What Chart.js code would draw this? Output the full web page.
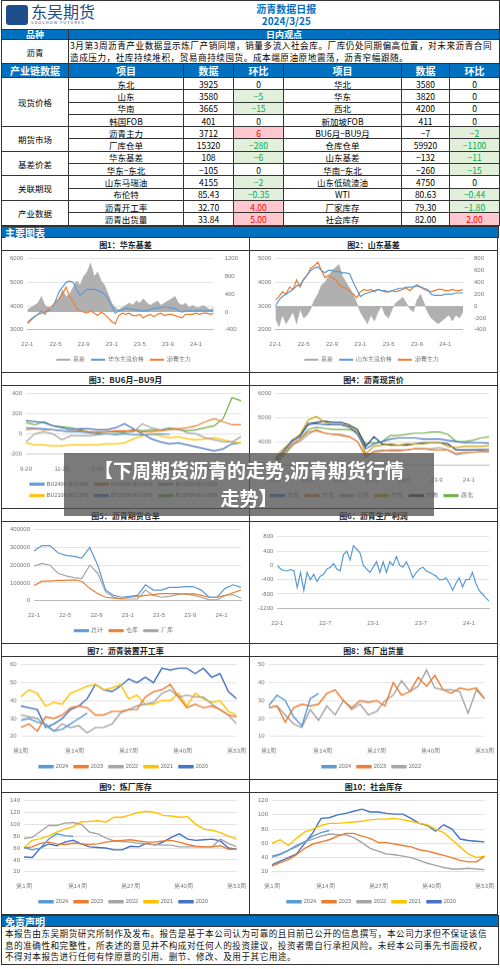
<!DOCTYPE html>
<html><head><meta charset="utf-8">
<script src="https://cdn.jsdelivr.net/npm/chart.js@4"></script>
<style>
*{box-sizing:border-box;margin:0;padding:0}
body{width:500px;height:969px;background:#fff;font-family:"Noto Sans CJK SC",sans-serif;position:relative;overflow:hidden}
table{border-collapse:collapse;width:498px;margin-left:1px;table-layout:fixed}
td{border:1px solid #333;font-size:8.5px;text-align:center;padding:0;line-height:10px;height:12.3px;white-space:nowrap;overflow:hidden}
.hd td{background:#0070c0;color:#fff;font-weight:bold;font-size:10px;height:14px}
.g{background:#e2efda;color:#00b050}.r{background:#ffc7ce;color:#f00}
.bar{background:#0070c0;color:#fff;font-weight:bold;font-size:10px;height:12px;line-height:11px;padding-left:3px;margin:0 1px;border:1px solid #333}
.grid{display:grid;grid-template-columns:248px 248px;margin-left:1px;border-left:1px solid #333}
.cell{height:135.5px;border-right:1px solid #333;border-bottom:1px solid #333}
.ct{height:13px;font-size:8px;text-align:center;line-height:13px;border-bottom:1px solid #333;font-weight:bold;color:#222}
.cv{height:121.5px;position:relative}
#ov{position:absolute;left:64px;top:453px;width:370px;height:63px;background:rgba(85,85,85,0.78);color:#fff;font-weight:bold;font-size:19px;text-align:center;line-height:28px;padding-top:3px}
</style></head><body>
<table>
<col style="width:67px"><col style="width:115px"><col style="width:50px"><col style="width:50px"><col style="width:118px"><col style="width:48px"><col style="width:50px">
<tr><td colspan="2" style="height:29px;border-right:none;text-align:left;padding-left:4px"><span style="display:inline-block;width:22px;height:20px;background:#1f4e8c;border-radius:3px;vertical-align:middle"></span><span style="display:inline-block;vertical-align:middle;margin-left:3px;color:#1f4e8c;line-height:12px"><b style="font-size:16px;font-weight:normal">东吴期货</b><br><span style="font-size:4px;letter-spacing:1px;line-height:5px;display:block">SOOCHOW FUTURES</span></span></td>
<td colspan="5" style="height:29px;border-left:none;color:#0070c0;font-weight:bold;font-size:10px;line-height:12px;padding-right:110px">沥青数据日报<br>2024/3/25</td></tr>
<tr class="hd"><td style="height:10px;font-size:9px;line-height:9px">品种</td><td colspan="6" style="height:10px;font-size:9px;line-height:9px">日内观点</td></tr>
<tr><td style="height:24px">沥青</td><td colspan="6" style="height:24px;text-align:left;white-space:normal;line-height:11.5px;padding-left:1px;font-size:8.6px;letter-spacing:0.55px">3月第3周沥青产业数据显示炼厂产销同增，销量多流入社会库。厂库仍处同期偏高位置，对未来沥青合同造成压力，社库持续堆积，贸易商持续囤货。成本端原油原地震荡，沥青窄幅跟随。</td></tr>
<tr class="hd"><td>产业链数据</td><td>项目</td><td>数据</td><td>环比</td><td>项目</td><td>数据</td><td>环比</td></tr>
<tr><td rowspan="4">现货价格</td><td>东北</td><td>3925</td><td>0</td><td>华北</td><td>3580</td><td>0</td></tr>
<tr><td>山东</td><td>3580</td><td class="g">−5</td><td>华东</td><td>3820</td><td>0</td></tr>
<tr><td>华南</td><td>3665</td><td class="g">−15</td><td>西北</td><td>4200</td><td>0</td></tr>
<tr><td>韩国FOB</td><td>401</td><td>0</td><td>新加坡FOB</td><td>411</td><td>0</td></tr>
<tr><td rowspan="2">期货市场</td><td>沥青主力</td><td>3712</td><td class="r">6</td><td>BU6月−BU9月</td><td>−7</td><td class="g">−2</td></tr>
<tr><td>厂库仓单</td><td>15320</td><td class="g">−280</td><td>仓库仓单</td><td>59920</td><td class="g">−1100</td></tr>
<tr><td rowspan="2">基差价差</td><td>华东基差</td><td>108</td><td class="g">−6</td><td>山东基差</td><td>−132</td><td class="g">−11</td></tr>
<tr><td>华东−东北</td><td>−105</td><td>0</td><td>华南−东北</td><td>−260</td><td class="g">−15</td></tr>
<tr><td rowspan="2">关联期现</td><td>山东马瑞油</td><td>4155</td><td class="g">−2</td><td>山东低硫渣油</td><td>4750</td><td>0</td></tr>
<tr><td>布伦特</td><td>85.43</td><td class="g">−0.35</td><td>WTI</td><td>80.63</td><td class="g">−0.44</td></tr>
<tr><td rowspan="2">产业数据</td><td>沥青开工率</td><td>32.70</td><td class="r">4.00</td><td>厂家库存</td><td>79.30</td><td class="g">−1.80</td></tr>
<tr><td>沥青出货量</td><td>33.84</td><td class="r">5.00</td><td>社会库存</td><td>82.00</td><td class="r">2.00</td></tr>
</table>
<div class="bar">主要图表</div>
<div class="grid" id="grid"></div>
<div class="bar" style="margin-top:0">免责声明</div>
<div style="margin:0 1px;border:1px solid #333;border-top:none;font-size:8.6px;line-height:11.5px;padding:1px 3px;height:38px;color:#111;letter-spacing:0.5px">本报告由东吴期货研究所制作及发布。报告是基于本公司认为可靠的且目前已公开的信息撰写，本公司力求但不保证该信息的准确性和完整性，所表述的意见并不构成对任何人的投资建议，投资者需自行承担风险。未经本公司事先书面授权，不得对本报告进行任何有悖原意的引用、删节、修改、及用于其它用途。</div>
<div id="ov">【下周期货沥青的走势,沥青期货行情<br>走势】</div>
<script>
// ---- data ----
const monthTicks1=["22-1","22-5","22-9","23-1","23-5","23-9","24-1"];
const monthTicks6=["22-1","22-7","23-1","23-7","24-1"];
const fig1Basis=[50,100,150,200,350,150,100,50,200,300,500,350,400,550,700,600,800,900,1100,800,900,700,600,400,200,100,50,100,150,200,150,250,200,300,200,150,200,250,150,200,250,300,350,200,150,200,100,150,100,100,150,100,50,100];
const fig1Price=[3300,3450,3550,3650,3700,3750,3800,3900,4200,4600,4800,5000,5050,5000,4700,4450,4600,4700,4700,4700,4650,4600,4500,4300,4000,3700,3800,3850,3900,3880,3850,3850,3800,3800,3800,3850,3900,3900,3950,3950,3950,3900,3900,3800,3750,3800,3800,3800,3800,3800,3800,3800,3800,3800];
const fig1Main=[3250,3400,3550,3650,3800,3650,3900,4000,4150,4300,4500,4800,4400,4200,3900,3800,3750,3700,3800,3700,3600,3750,3650,3500,3350,3250,3600,3700,3650,3700,3600,3600,3650,3500,3600,3650,3550,3650,3700,3600,3650,3650,3600,3550,3500,3650,3650,3650,3700,3650,3700,3700,3650,3700];
const fig2Basis=[-200,-350,-150,-300,-200,-100,-300,-50,-200,-150,-50,100,200,350,400,500,600,650,700,500,400,300,200,50,-100,-200,-300,-150,-250,-100,0,-150,-200,-50,50,100,150,50,-50,-100,100,200,50,-100,-200,-250,-300,-250,-200,-150,-250,-150,-200,-100];
const fig2Price=[3000,3250,3400,3500,3600,3700,3850,3900,4100,4300,4500,4600,4650,4500,4400,4500,4500,4450,4450,4400,4400,4350,4000,3700,3400,3500,3550,3600,3650,3700,3650,3650,3600,3650,3700,3750,3750,3800,3800,3800,3850,3800,3750,3700,3500,3450,3450,3450,3500,3500,3500,3550,3550,3550];
const fig2Main=[3250,3400,3600,3500,3800,3700,4100,3800,4150,4300,4600,4700,4850,4500,4200,4300,4200,4100,3900,3800,3750,3650,3500,3350,3600,3700,3650,3700,3600,3700,3650,3600,3600,3650,3600,3650,3700,3750,3650,3800,3900,3800,3700,3650,3600,3650,3700,3700,3650,3650,3700,3650,3650,3700];
const fig3Labels=["9-20","","","","11-20","","","","1-20","","","","3-20","","","","5-20","","","","7-20","","","",""];
const fig3Names=["BU2406-BU2409","BU2306-BU2309","BU2206-BU2209","BU2106-BU2109","BU2006-BU2009","BU1906-BU1909"];
const fig3S1=[60,55,50,40,30,20,20,10,0,0,-10,0,-10,-10,-5,0,-5];
const fig3S2=[40,50,40,40,30,20,30,20,20,20,30,30,30,20,20,30,40,50,60,80,120,150,120,90,90];
const fig3S3=[-80,0,20,0,-60,-20,-20,-20,-10,0,0,10,20,100,60,40,60,50,10,0,-40,-60,-80,-80,-30];
const fig3S4=[-90,-110,-110,-120,-120,-110,-110,-110,-110,-100,-100,-90,-50,-20,0,-20,-40,-30,-50,-60,-50,-40,-60,-80,-90];
const fig3S5=[130,120,110,80,60,40,50,50,40,40,60,100,50,0,-50,-80,-100,-90,-110,-130,-150,-170,-150,-100,-90];
const fig3S6=[110,90,120,80,70,60,40,20,10,20,20,20,40,30,40,30,50,40,30,40,60,80,150,360,330];
const fig4Names=["东北","华北","山东","华东","华南","西北"];
const fig4DB=[3200,3600,4000,4200,4700,4750,4700,4700,4700,4600,4300,3700,3900,4000,4100,4150,4150,4150,4100,4100,4100,4050,4000,3950,3950,3950,3925];
const fig4HB=[3100,3500,3900,4100,4400,4450,4350,4300,4250,4200,4000,3400,3550,3600,3650,3650,3650,3700,3700,3650,3650,3650,3500,3550,3550,3580,3580];
const fig4SD=[3050,3450,3850,4000,4300,4500,4350,4300,4300,4200,4000,3350,3600,3650,3600,3600,3650,3700,3700,3700,3750,3650,3450,3500,3550,3580,3580];
const fig4HD=[3350,3700,4000,4300,4900,5050,4800,4700,4700,4650,4400,3500,3800,3850,3900,3850,3900,3900,3900,3950,3950,3800,3750,3800,3800,3800,3820];
const fig4HN=[3250,3600,4050,4250,4750,4800,4850,4800,4800,4700,4500,3800,4200,3900,3850,3850,3850,3900,3950,3950,3950,3900,3650,3650,3650,3660,3665];
const fig4XB=[3000,3400,3800,4100,4500,4600,4550,4500,4500,4500,4400,3900,3950,4000,4250,4250,4300,4350,4350,4400,4400,4300,4000,4000,4050,4150,4200];
const fig5Total=[280000,310000,310000,270000,255000,250000,240000,300000,200000,60000,30000,20000,25000,30000,90000,60000,60000,75000,75000,80000,80000,60000,20000,20000,70000,90000,75000];
const fig5Ware=[85000,110000,110000,115000,115000,118000,110000,70000,40000,20000,15000,12000,20000,25000,30000,35000,40000,40000,40000,38000,40000,30000,20000,20000,30000,45000,60000];
const fig5Fact=[195000,210000,200000,155000,140000,130000,125000,200000,155000,50000,20000,10000,10000,10000,60000,30000,20000,25000,35000,40000,30000,20000,5000,5000,30000,35000,15000];
const fig6Profit=[0,-100,-150,-150,-120,-150,-620,-200,-700,-200,-400,-250,-450,-300,-250,-100,-50,50,-100,-150,300,400,150,550,450,350,0,-100,-200,-50,100,-200,100,-200,100,0,250,0,-50,100,-100,-350,-200,-100,-50,-150,-200,-250,-300,-400,-400,-350,-500,-700,-500,-350,-600,-400,-400,-200,-500,-700,-800,-900,-1000];
const weeks=[1,3,5,7,9,11,13,15,17,19,21,23,25,27,29,31,33,35,37,39,41,43,45,47,49,51,53];
const yearNames=["2024","2023","2022","2021","2020"];
const f7=[[29,30,28,27,23,24,27,30,33],[25,27,23,31,30,32,36,37,36,32,32,34,34,35,35,42,45,46,49,42,36,38,36,37,35,32,31],[32,31,30,26,23,27,25,26,22,25,25,27,33,35,37,38,39,44,46,42,43,42,42,38,35,32,27],[42,46,44,37,39,38,44,46,48,49,46,47,49,41,43,38,38,40,40,44,37,44,41,39,40,34,32],[37,36,35,25,27,30,35,37,41,49,46,45,48,52,50,53,50,58,57,58,58,55,58,53,55,45,41]];
const f8=[[27,33,30,21,16,31,34],[26,27,18,26,28,27,28,34,36,30,26,30,29,30,27,40,33,35,43,38,44,36,34,37,36,37,31],[26,27,22,17,15,25,19,27,22,30,25,28,22,24,30,33,41,35,38,47,37,36,36,35,23,36,31]];
const f9=[[61,57,60,75,84,81,80],[60,62,68,70,67,66,68,67,66,67,70,72,73,74,72,70,70,72,73,70,66,63,62,62,64,58,58],[76,78,88,98,98,102,103,100,87,84,77,72,71,70,68,67,66,65,65,62,62,62,62,62,75,68,62],[60,73,76,80,87,92,96,104,105,106,104,112,112,116,120,122,120,115,114,112,113,100,92,90,86,80,75],[45,44,60,67,64,70,73,67,62,61,60,57,57,63,62,68,65,70,78,84,75,73,74,75,72,60,58]];
const f10=[[42,45,50,57,62,70,75,78],[28,33,37,44,53,59,62,65,70,74,74,70,67,61,61,59,57,55,51,49,46,43,40,36,34,34,42],[40,44,50,55,62,66,70,73,72,72,68,61,53,49,45,44,42,40,36,32,29,26,24,24,25,24,23],[60,65,57,67,76,80,85,88,88,89,90,91,93,94,94,95,93,91,88,86,80,75,65,55,45,40,42],[30,35,40,45,60,75,95,96,100,102,105,108,104,104,102,101,101,95,88,85,77,86,80,66,64,63,62]];
const titles=["图1：华东基差","图2：山东基差","图3：BU6月−BU9月","图4：沥青现货价","图5：沥青期货仓单","图6：沥青生产利润","图7：沥青装置开工率","图8：炼厂出货量","图9：炼厂库存","图10：社会库存"];
// ---- build ----
const C={blue:"#5b9bd5",orange:"#ed7d31",gray:"#a5a5a5",yellow:"#ffc000",dblue:"#4472c4",green:"#70ad47",navy:"#264478"};
Chart.defaults.font.size=6;Chart.defaults.color="#777";Chart.defaults.font.family="Liberation Sans";
const grid=document.getElementById("grid");const canv=[];
titles.forEach(t=>{const c=document.createElement("div");c.className="cell";c.innerHTML='<div class="ct">'+t+'</div><div class="cv"><canvas></canvas></div>';grid.appendChild(c);canv.push(c.querySelector("canvas"));});
const span=26.5;
const ts=(v)=>v.map((y,i)=>({x:i*span/(v.length-1),y}));
const ln=(label,data,color,extra)=>Object.assign({label,data,borderColor:color,backgroundColor:color,borderWidth:1.2,pointRadius:0,tension:0},extra||{});
const legend={position:"bottom",labels:{boxWidth:14,boxHeight:2,padding:6,font:{size:5.5},color:"#666"}};
const gridC={color:"#e3e3e3",drawTicks:false};
const plain=v=>String(v);
const yAx=(mn,mx,st,extra)=>Object.assign({min:mn,max:mx,ticks:{stepSize:st,callback:plain,padding:4},grid:gridC,border:{display:false}},extra||{});
function xMonth(ticks,step){return{type:"linear",min:0,max:span,grid:{display:false},border:{color:"#bbb"},ticks:{stepSize:step,autoSkip:false,includeBounds:false,maxRotation:0,callback:(v)=>ticks[Math.round(v/step)]||""}};}
function mk(i,cfg){cfg.options=Object.assign({responsive:true,maintainAspectRatio:false,animation:false,layout:{padding:{left:4,right:8,top:6}},plugins:{legend}},cfg.options);new Chart(canv[i],cfg);}
function basisChart(i,basis,price,main,pname,yl,yr){
 mk(i,{type:"line",data:{datasets:[ln("基差",ts(basis),"#aaa",{yAxisID:"y1",fill:{value:0},backgroundColor:"#b0b0b0",borderWidth:0.5,order:3}),ln(pname,ts(price),C.blue,{order:1}),ln("沥青主力",ts(main),C.orange,{order:2})]},
 options:{scales:{x:xMonth(monthTicks1,4),y:yAx(yl[0],yl[1],1000),y1:{position:"right",min:yr[0],max:yr[1],ticks:{stepSize:yr[2],callback:plain},grid:{display:false},border:{display:false}}},plugins:{legend:Object.assign({},legend,{labels:Object.assign({},legend.labels,{generateLabels:(ch)=>ch.data.datasets.map((d,k)=>({text:d.label,fillStyle:k==0?"#aaa":d.borderColor,strokeStyle:k==0?"#aaa":d.borderColor,lineWidth:0,fontColor:"#666",datasetIndex:k}))})})}}});}
basisChart(0,fig1Basis,fig1Price,fig1Main,"华东主流价格",[3000,6000],[-400,1200,400]);
basisChart(1,fig2Basis,fig2Price,fig2Main,"山东主流价格",[2000,5000],[-400,800,200]);
const f3c=[C.blue,C.orange,C.gray,C.yellow,C.dblue,C.green];
mk(2,{type:"line",data:{labels:fig3Labels,datasets:[fig3S1,fig3S2,fig3S3,fig3S4,fig3S5,fig3S6].map((d,k)=>ln(fig3Names[k],d,f3c[k]))},
 options:{scales:{x:{grid:{display:false},ticks:{autoSkip:false,maxRotation:0}},y:yAx(-200,400,100)}}});
const f4c=[C.dblue,C.orange,C.gray,"#c9a000",C.navy,C.green];
mk(3,{type:"line",data:{datasets:[fig4DB,fig4HB,fig4SD,fig4HD,fig4HN,fig4XB].map((d,k)=>ln(fig4Names[k],ts(d),f4c[k]))},
 options:{scales:{x:xMonth(monthTicks1,4),y:yAx(3000,6000,1000)}}});
mk(4,{type:"line",data:{datasets:[ln("总计",ts(fig5Total),C.blue),ln("仓库",ts(fig5Ware),C.orange),ln("厂库",ts(fig5Fact),C.gray)]},
 options:{scales:{x:Object.assign(xMonth(monthTicks1,4),{afterBuildTicks:(ax)=>{ax.ticks=monthTicks1.map((_,k)=>({value:k*4}));}}),y:yAx(0,400000,100000)}}});
mk(5,{type:"line",data:{datasets:[ln("利润",ts(fig6Profit),C.blue)]},
 options:{plugins:{legend:{display:false}},layout:{padding:{left:4,right:8,top:6,bottom:14}},scales:{x:xMonth(monthTicks6,6),y:yAx(-1200,1000,200)}}});
const yc=[C.blue,C.orange,C.gray,C.yellow,C.dblue];
function weekly(i,sets,yr,step){mk(i,{type:"line",data:{datasets:sets.map((d,k)=>ln(yearNames[k],d.map((y,j)=>({x:weeks[j],y})),yc[k],{borderWidth:1.4}))},
 options:{scales:{x:{type:"linear",min:1,max:53,grid:{display:false},border:{display:false},ticks:{stepSize:13,callback:v=>"第"+v+"周"}},y:yAx(yr[0],yr[1],step)}}});}
weekly(6,f7,[20,60],10);weekly(7,f8,[10,50],10);weekly(8,f9,[20,140],20);weekly(9,f10,[20,120],20);
</script></body></html>
